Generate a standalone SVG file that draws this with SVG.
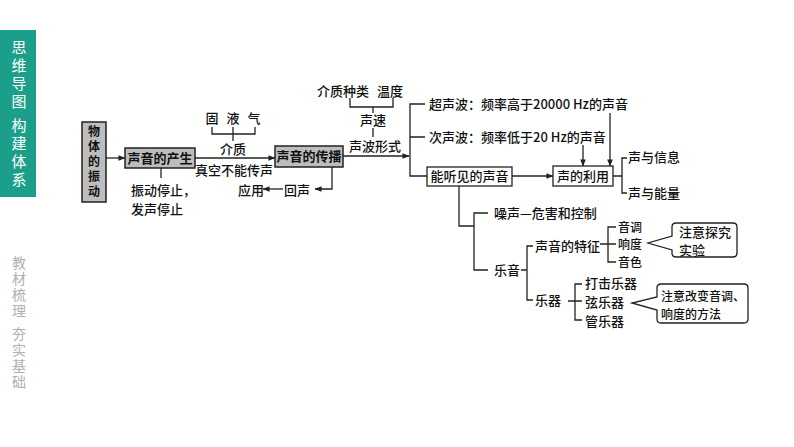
<svg xmlns="http://www.w3.org/2000/svg" width="794" height="447" viewBox="0 0 794 447">
<style>
.t{font-family:"Noto Sans CJK SC","Liberation Serif",sans-serif;font-size:13px;fill:#111;font-weight:500}
.m{text-anchor:middle}
.box{fill:#bdbdbd;stroke:#222;stroke-width:1.5}
.wbox{fill:#fff;stroke:#222;stroke-width:1.3}
.ln{fill:none;stroke:#222;stroke-width:1.3}
.v{writing-mode:vertical-rl;text-orientation:upright}
.sw{font-family:"Noto Sans CJK SC",sans-serif;font-size:15px;fill:#fff;letter-spacing:3px}
.sg{font-family:"Noto Sans CJK SC",sans-serif;font-size:14px;fill:#b0b0b0;letter-spacing:2px}
</style>
<defs>
<marker id="ar" viewBox="0 0 8 8" refX="7.5" refY="4" markerWidth="7" markerHeight="7" markerUnits="userSpaceOnUse" orient="auto">
<path d="M0,0.8 L8,4 L0,7.2 Z" fill="#222"/>
</marker>
</defs>
<rect width="794" height="447" fill="#fff"/>
<g id="side-strip">
<rect x="0" y="30" width="36" height="167" fill="#1c9f8a"/>
<text class="sw v" x="19" y="40">思维导图</text>
<text class="sw v" x="19" y="118">构建体系</text>
<text class="sg v" x="19" y="256">教材梳理</text>
<text class="sg v" x="19" y="327">夯实基础</text>
</g>
<g id="connectors">
<line class="ln" x1="106" y1="158" x2="125" y2="158" marker-end="url(#ar)"/>
<line class="ln" x1="195" y1="158" x2="275" y2="158" marker-end="url(#ar)"/>
<path class="ln" d="M212,127 V134 H255 V127 M233,127 V141"/>
<line class="ln" x1="161" y1="167" x2="161" y2="178"/>
<path class="ln" d="M332,167 V189 H315" marker-end="url(#ar)"/>
<line class="ln" x1="283" y1="189" x2="263" y2="189" marker-end="url(#ar)"/>
<path class="ln" d="M350,98 V107 H393 V98 M373,107 V113 M373,128 V137"/>
<line class="ln" x1="343" y1="156" x2="409" y2="156" marker-end="url(#ar)"/>
<path class="ln" d="M425,104 H410 V176 H427 M410,137 H425"/>
<line class="ln" x1="512" y1="176" x2="553" y2="176" marker-end="url(#ar)"/>
<line class="ln" x1="583" y1="145" x2="583" y2="166" marker-end="url(#ar)"/>
<line class="ln" x1="610" y1="113" x2="610" y2="166" marker-end="url(#ar)"/>
<path class="ln" d="M613,176 H622 M627,158 H622 V193 H627"/>
<path class="ln" d="M459,185 V226 H474 M488,213 H474 V270 H488"/>
<path class="ln" d="M521,270 H527 M533,246 H527 V300 H533"/>
<path class="ln" d="M600,244 H608 M616,227 H608 V262 H616 M608,244 H616"/>
<path class="ln" d="M568,301 H575 M582,284 H575 V320 H582 M575,301 H582"/>
</g>
<g id="n-wuti">
<rect class="box" x="82" y="122" width="24" height="80"/>
<text class="t v" x="94" y="125" style="font-weight:700;font-size:12px;letter-spacing:3px">物体的振动</text>
</g>
<g id="n-chansheng">
<rect class="box" x="125" y="148" width="70" height="20"/>
<text class="t m" x="160" y="163" style="font-weight:700">声音的产生</text>
</g>
<g id="n-stop">
<text class="t" x="131" y="195">振动停止，</text>
<text class="t" x="131" y="214">发声停止</text>
</g>
<g id="n-medium">
<text class="t m" x="212" y="123">固</text>
<text class="t m" x="233" y="123">液</text>
<text class="t m" x="254" y="123">气</text>
<text class="t m" x="233" y="154">介质</text>
<text class="t m" x="234" y="175">真空不能传声</text>
</g>
<g id="n-echo">
<text class="t" x="238" y="194.5">应用</text>
<text class="t" x="284" y="194.5">回声</text>
</g>
<g id="n-chuanbo">
<rect class="box" x="275" y="146" width="68" height="21"/>
<text class="t m" x="309" y="161" style="font-weight:700">声音的传播</text>
</g>
<g id="n-speed">
<text class="t" x="317" y="96">介质种类</text>
<text class="t" x="377" y="96">温度</text>
<text class="t m" x="373" y="125">声速</text>
<text class="t m" x="375" y="151">声波形式</text>
</g>
<g id="n-ultra">
<text class="t" x="429" y="109">超声波：频率高于20000 Hz的声音</text>
</g>
<g id="n-infra">
<text class="t" x="429" y="142">次声波：频率低于20 Hz的声音</text>
</g>
<g id="n-audible">
<rect class="wbox" x="427" y="167" width="85" height="19"/>
<text class="t m" x="469.5" y="181">能听见的声音</text>
</g>
<g id="n-use">
<rect class="wbox" x="553" y="166" width="60" height="20"/>
<text class="t m" x="583" y="181">声的利用</text>
</g>
<g id="n-info">
<text class="t" x="628" y="162">声与信息</text>
<text class="t" x="628" y="198">声与能量</text>
</g>
<g id="n-noise">
<text class="t" x="494" y="218">噪声—危害和控制</text>
</g>
<g id="n-music">
<text class="t" x="494" y="275">乐音</text>
</g>
<g id="n-feature">
<text class="t" x="535" y="251">声音的特征</text>
<text class="t" x="618" y="231.5" style="font-size:12px">音调</text>
<text class="t" x="618" y="249" style="font-size:12px">响度</text>
<text class="t" x="618" y="266.5" style="font-size:12px">音色</text>
</g>
<g id="n-note1">
<path class="wbox" d="M676,223 H733 Q737,223 737,227 V253 Q737,257 733,257 H676 Q672,257 672,253 V250 L648,243 L672,236 V227 Q672,223 676,223 Z"/>
<text class="t" x="679" y="237">注意探究</text>
<text class="t" x="679" y="255">实验</text>
</g>
<g id="n-instr">
<text class="t" x="535" y="305">乐器</text>
<text class="t" x="585" y="287.5">打击乐器</text>
<text class="t" x="585" y="306.5">弦乐器</text>
<text class="t" x="585" y="325.5">管乐器</text>
</g>
<g id="n-note2">
<path class="wbox" d="M661,284 H744 Q748,284 748,288 V319 Q748,323 744,323 H661 Q657,323 657,319 V310 L632,303 L657,297 V288 Q657,284 661,284 Z"/>
<text class="t" x="661" y="301" style="font-size:12px">注意改变音调、</text>
<text class="t" x="661" y="319" style="font-size:12px">响度的方法</text>
</g>
</svg>
